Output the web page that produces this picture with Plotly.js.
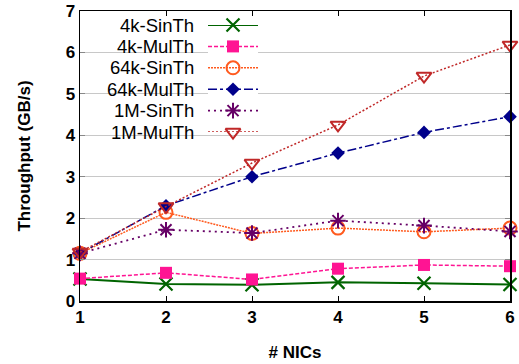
<!DOCTYPE html>
<html><head><meta charset="utf-8">
<script src="https://cdn.plot.ly/plotly-3.0.1.min.js"></script>
<style>html,body{margin:0;padding:0;background:#fff}</style>
</head><body><div id="chart" style="width:519px;height:364px"></div>
<script>
const nics = [1, 2, 3, 4, 5, 6];
const seriesNames = ["4k-SinTh", "4k-MulTh", "64k-SinTh", "64k-MulTh", "1M-SinTh", "1M-MulTh"];
const sin4k  = [0.53, 0.41, 0.39, 0.45, 0.43, 0.40];
const mul4k  = [0.54, 0.68, 0.52, 0.78, 0.87, 0.84];
const sin64k = [1.15, 2.14, 1.63, 1.76, 1.67, 1.76];
const mul64k = [1.15, 2.30, 3.00, 3.57, 4.07, 4.45];
const sin1m  = [1.15, 1.72, 1.64, 1.94, 1.82, 1.68];
const mul1m  = [1.18, 2.28, 3.33, 4.25, 5.43, 6.18];
const yTicks = [0, 1, 2, 3, 4, 5, 6, 7];

const values = [sin4k, mul4k, sin64k, mul64k, sin1m, mul1m];
const styles = [
  {color:"#006400", dash:"solid",  width:2,   symbol:"x-thin-open",        size:13, mlw:2.2},
  {color:"#ff1493", dash:"4px,2px",width:1.5, symbol:"square",             size:12, mlw:0},
  {color:"#ff5a1e", dash:"2px,1px",width:1.5, symbol:"circle-open",        size:13, mlw:2},
  {color:"#00008b", dash:"dashdot",width:1.5, symbol:"diamond",            size:10.5, mlw:0},
  {color:"#660066", dash:"2px,4px",width:1.8, symbol:"asterisk-open",      size:13, mlw:2},
  {color:"#c02828", dash:"2px,2px",width:1.5, symbol:"triangle-down-open", size:13, mlw:2}
];
const F = "Liberation Sans, Arial, Helvetica, sans-serif";
const traces = [];
values.forEach((v, i) => {
  const s = styles[i];
  traces.push({x: nics, y: v, type:"scatter", mode:"lines+markers", name: seriesNames[i], showlegend:false,
    line:{color:s.color, dash:s.dash, width:s.width},
    marker:{symbol:s.symbol, size:s.size, color:s.color, line:{color:s.color, width:s.mlw}},
    cliponaxis:false});
});
// custom legend (text left, sample right)
const legTop = 0.9517, legStep = 0.0738;
const annotations = [];
seriesNames.forEach((n, i) => {
  const s = styles[i];
  traces.push({x:[0,1], y:[i,i], xaxis:"x2", yaxis:"y2", type:"scatter", mode:"lines", showlegend:false, hoverinfo:"skip",
    line:{color:s.color, dash:s.dash, width:s.width}});
  traces.push({x:[0.5], y:[i], xaxis:"x2", yaxis:"y2", type:"scatter", mode:"markers", showlegend:false, hoverinfo:"skip",
    marker:{symbol:s.symbol, size:s.size, color:s.color, line:{color:s.color, width:s.mlw}}, cliponaxis:false});
  annotations.push({xref:"paper", yref:"paper", x:0.2698, y:legTop - i*legStep, text:n, showarrow:false,
    xanchor:"right", yanchor:"middle", font:{family:F, size:18.5, color:"#000"}});
});

const layout = {
  width:519, height:364,
  margin:{l:80, r:9, t:11, b:63},
  paper_bgcolor:"#fff", plot_bgcolor:"#fff",
  showlegend:false,
  xaxis:{range:[1,6], tickvals:nics, showgrid:false, zeroline:false, showline:true, linecolor:"#000", linewidth:1.5,
    mirror:"allticks", ticks:"inside", ticklen:5, tickcolor:"#000",
    tickfont:{family:F, size:17, color:"#000", weight:"bold"},
    title:{text:"# NICs", font:{family:F, size:17, color:"#000", weight:"bold"}, standoff:20}},
  yaxis:{range:[0,7], tickvals:yTicks, showgrid:true, gridcolor:"#c8c8c8", gridwidth:1, zeroline:false, showline:true,
    linecolor:"#000", linewidth:1.5, mirror:"allticks", ticks:"inside", ticklen:5, tickcolor:"#888",
    tickfont:{family:F, size:17, color:"#000", weight:"bold"},
    title:{text:"Throughput (GB/s)", font:{family:F, size:17, color:"#000", weight:"bold"}, standoff:30}},
  xaxis2:{domain:[0.2977, 0.414], range:[0,1], anchor:"y2", visible:false, fixedrange:true},
  yaxis2:{domain:[legTop - 5*legStep, legTop], range:[5,0], anchor:"x2", visible:false, fixedrange:true},
  shapes:[{type:"rect", xref:"paper", yref:"paper", x0:0.028, x1:0.442, y0:0.538, y1:0.997, fillcolor:"#fff",
    line:{width:0}, layer:"between"}],
  annotations: annotations
};
Plotly.newPlot("chart", traces, layout, {displayModeBar:false, staticPlot:true});
</script></body></html>
